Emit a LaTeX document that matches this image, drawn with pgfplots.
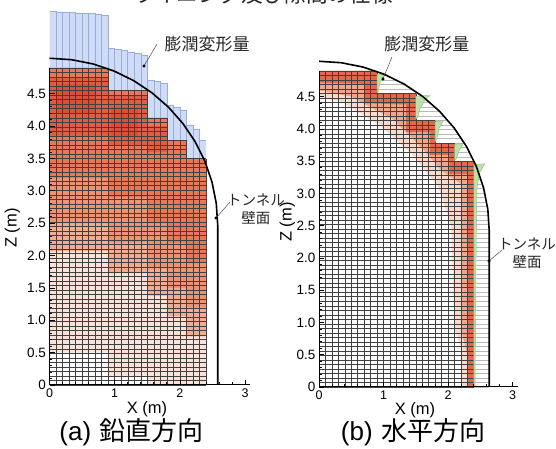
\documentclass[border=0pt]{standalone}
\usepackage{fontspec}
\setmainfont{Liberation Sans}
\newfontfamily\jp{Noto Sans CJK JP}
\usepackage{pgfplots}
\pgfplotsset{compat=1.18}
\usepackage{pgfplotstable}

\definecolor{bluefill}{RGB}{208,220,246}
\definecolor{blueline}{RGB}{150,172,228}
\definecolor{lp}{RGB}{250,226,216}
\definecolor{sal}{RGB}{243,172,148}
\definecolor{sal2}{RGB}{239,146,116}
\definecolor{med}{RGB}{235,118,88}
\definecolor{dk}{RGB}{228,92,64}
\definecolor{dkk}{RGB}{222,78,52}
\definecolor{rp}{RGB}{250,218,205}
\definecolor{rm}{RGB}{243,165,140}
\definecolor{rr}{RGB}{234,100,74}
\definecolor{gfill}{RGB}{190,225,170}
\definecolor{gline}{RGB}{135,190,115}

% mesh rows: z, right end of mesh, tunnel wall x (right panel)
\pgfplotstableread{
z mesh arc
0.00 2.4 2.64
0.07 2.4 2.64
0.14 2.4 2.64
0.21 2.4 2.64
0.28 2.4 2.64
0.35 2.4 2.64
0.42 2.4 2.64
0.49 2.4 2.64
0.56 2.4 2.64
0.63 2.4 2.64
0.70 2.4 2.64
0.77 2.4 2.64
0.84 2.4 2.64
0.91 2.4 2.64
0.98 2.4 2.64
1.05 2.4 2.64
1.12 2.4 2.64
1.19 2.4 2.64
1.26 2.4 2.64
1.33 2.4 2.64
1.40 2.4 2.64
1.47 2.4 2.64
1.54 2.4 2.64
1.61 2.4 2.64
1.68 2.4 2.64
1.75 2.4 2.64
1.82 2.4 2.64
1.89 2.4 2.64
1.96 2.4 2.64
2.03 2.4 2.64
2.10 2.4 2.64
2.17 2.4 2.64
2.24 2.4 2.64
2.31 2.4 2.64
2.38 2.4 2.64
2.45 2.4 2.6397
2.52 2.4 2.6377
2.59 2.4 2.6339
2.66 2.4 2.6282
2.73 2.4 2.6205
2.80 2.4 2.6110
2.87 2.4 2.5996
2.94 2.4 2.5863
3.01 2.4 2.5709
3.08 2.4 2.5536
3.15 2.4 2.5342
3.22 2.4 2.5127
3.29 2.4 2.4890
3.36 2.4 2.4632
3.43 2.4 2.4350
3.50 2.4 2.4045
3.57 2.1 2.3715
3.64 2.1 2.3360
3.71 2.1 2.2978
3.78 2.1 2.2567
3.85 1.8 2.2127
3.92 1.8 2.1655
3.99 1.8 2.1150
4.06 1.8 2.0609
4.13 1.8 2.0028
4.20 1.5 1.9405
4.27 1.5 1.8735
4.34 1.5 1.8013
4.41 1.5 1.7233
4.48 1.5 1.6385
4.55 1.5 1.5460
4.62 0.9 1.4441
4.69 0.9 1.3309
4.76 0.9 1.2030
4.83 0.9 1.0551
4.90 0.9 0.8772
}\rows

% mesh columns: x, top of mesh
\pgfplotstableread{
x top
0.0 4.9
0.1 4.9
0.2 4.9
0.3 4.9
0.4 4.9
0.5 4.9
0.6 4.9
0.7 4.9
0.8 4.9
0.9 4.9
1.0 4.55
1.1 4.55
1.2 4.55
1.3 4.55
1.4 4.55
1.5 4.55
1.6 4.13
1.7 4.13
1.8 4.13
1.9 3.78
2.0 3.78
2.1 3.78
2.2 3.5
2.3 3.5
2.4 3.5
}\cols

% swelling deformation bars (left): column left edge, top
\pgfplotstableread{
x t
0.0 5.77
0.1 5.765
0.2 5.76
0.3 5.755
0.4 5.75
0.5 5.745
0.6 5.74
0.7 5.73
0.8 5.72
0.9 5.21
1.0 5.19
1.1 5.17
1.2 5.15
1.3 5.13
1.4 5.10
1.5 4.71
1.6 4.69
1.7 4.67
1.8 4.33
1.9 4.29
2.0 4.25
2.1 4.02
2.2 3.95
2.3 3.78
2.4 3.78
}\bluetab

\pgfplotstableread{
x t
0.1 5.77
0.2 5.765
0.3 5.76
0.4 5.755
0.5 5.75
0.6 5.745
0.7 5.74
0.8 5.73
0.9 5.72
1.0 5.21
1.1 5.19
1.2 5.17
1.3 5.15
1.4 5.13
1.5 5.10
1.6 4.71
1.7 4.69
1.8 4.67
1.9 4.33
2.0 4.29
2.1 4.25
2.2 4.02
2.3 3.95
}\bluevert

% tunnel walls
\pgfplotstableread{
x z
2.58 0
2.58 2.47
2.5579 2.8068
2.4921 3.1378
2.3836 3.4573
2.2344 3.76
2.0468 4.0406
1.8243 4.2943
1.5706 4.5168
1.29 4.7044
0.9873 4.8536
0.6678 4.9621
0.3368 5.0279
0 5.05
}\arcL

\pgfplotstableread{
x z
2.64 0
2.64 2.41
2.6174 2.7546
2.5501 3.0933
2.4390 3.4203
2.2863 3.73
2.0944 4.0171
1.8668 4.2768
1.6071 4.5044
1.32 4.6963
1.0103 4.849
0.6833 4.9601
0.3446 5.0274
0 5.05
}\arcR

\pgfplotsset{
 common/.style={
  anchor=origin,
  xmin=0, xmax=3.08, ymin=0, ymax=4.9,
  axis lines*=left, clip=false, axis on top,
  xtick={0,1,2,3},
  ytick={0,0.5,...,4.5},
  yticklabels={0,0.5,1.0,1.5,2.0,2.5,3.0,3.5,4.0,4.5},
  minor x tick num=4, minor y tick num=4,
  tick align=inside,
  major tick length=5pt, minor tick length=2.5pt,
  tick style={black, line width=0.8pt},
  axis line style={black, line width=1pt},
  xticklabel style={font=\fontsize{12.5}{14}\selectfont},
  yticklabel style={font=\fontsize{13.5}{15}\selectfont},
  /pgf/number format/assume math mode=true,
 },
}
\tikzset{
 meshl/.style={black!75, line width=0.45pt},
 wallline/.style={black, line width=1.6pt},
 leadline/.style={black!70, line width=0.5pt},
 jpl/.style={font=\jp\fontsize{17}{20}\selectfont, text=black!85},
 jpt/.style={font=\jp\fontsize{14.5}{18}\selectfont, text=black!85, align=center},
 axlab/.style={font=\fontsize{16.5}{18}\selectfont},
 captxt/.style={font=\fontsize{26}{30}\selectfont},
}

\begin{document}
\begin{tikzpicture}
\useasboundingbox (0,0) rectangle (556pt,449pt);
\node[anchor=base, font=\jp\fontsize{21.6}{24}\selectfont, text=black!85] at (263pt,446.5pt) {ライニング及び隙間の仕様};

% ---------------- (a) ----------------
\begin{axis}[common, at={(49.5pt,64pt)}, x=65.2pt, y=64.7pt]
\addplot[const plot, fill=bluefill, draw=none] table[x=x,y=t]{\bluetab} \closedcycle;
\addplot[const plot, draw=blueline, line width=0.5pt] table[x=x,y=t]{\bluetab};
\addplot[ycomb, draw=blueline, line width=0.5pt] table[x=x,y=t]{\bluevert};
% color field
\addplot[fill=lp, draw=none] coordinates {(0,0)(2.4,0)(2.4,3.5)(2.1,3.5)(2.1,3.78)(1.8,3.78)(1.8,4.13)(1.5,4.13)(1.5,4.55)(0.9,4.55)(0.9,4.9)(0,4.9)} -- cycle;
\addplot[fill=white, draw=none] coordinates {(0,0)(1.5,0)(1.5,0.12)(0.9,0.12)(0.9,0.5)(0,0.5)} -- cycle;
\addplot[fill=sal, draw=none] coordinates {(0,2.07)(0,4.9)(0.9,4.9)(0.9,4.55)(1.5,4.55)(1.5,4.13)(1.8,4.13)(1.8,3.78)(2.1,3.78)(2.1,3.5)(2.4,3.5)(2.4,0.75)(2.1,0.75)(2.1,1.06)(1.8,1.06)(1.8,1.38)(1.5,1.38)(1.5,1.73)(0.9,1.73)(0.9,2.07)} -- cycle;
\addplot[fill=sal2, draw=none] coordinates {(0,2.5)(0,4.9)(0.9,4.9)(0.9,4.55)(1.5,4.55)(1.5,4.13)(1.8,4.13)(1.8,3.78)(2.1,3.78)(2.1,3.5)(2.4,3.5)(2.4,1.2)(2.1,1.2)(2.1,1.5)(1.8,1.5)(1.8,1.8)(1.5,1.8)(1.5,2.2)(0.9,2.2)(0.9,2.5)} -- cycle;
\addplot[fill=med, draw=none] coordinates {(0,3.2)(0,4.9)(0.9,4.9)(0.9,4.55)(1.5,4.55)(1.5,4.13)(1.8,4.13)(1.8,3.78)(2.1,3.78)(2.1,3.5)(2.4,3.5)(2.4,1.9)(2.1,1.9)(2.1,2.2)(1.8,2.2)(1.8,2.5)(1.5,2.5)(1.5,2.9)(0.9,2.9)(0.9,3.2)} -- cycle;
\addplot[fill=dk, draw=none] coordinates {(0,3.85)(0,4.76)(0.9,4.76)(0.9,4.48)(1.5,4.48)(1.5,4.0)(1.8,4.0)(1.8,3.6)(1.5,3.6)(1.5,3.7)(0.9,3.7)(0.9,3.85)} -- cycle;
\addplot[fill=dkk, draw=none] coordinates {(0.1,4.2)(0.7,4.2)(0.7,4.65)(0.1,4.65)} -- cycle;
\addplot[fill=dkk, draw=none] coordinates {(0.95,3.85)(1.35,3.85)(1.35,4.3)(0.95,4.3)} -- cycle;
% mesh
\addplot[xcomb, meshl] table[x=mesh,y=z]{\rows};
\addplot[ycomb, meshl] table[x=x,y=top]{\cols};
% wall
\addplot[wallline] table[x=x,y=z]{\arcL};
% annotations
\addplot[leadline] coordinates {(1.649,5.27)(1.449,4.93)};
\addplot[only marks, mark=*, mark size=1.3pt, black] coordinates {(1.449,4.93)};
\node[jpl] at (axis cs:2.416,5.263) {膨潤変形量};
\addplot[leadline] coordinates {(2.768,2.828)(2.554,2.581)};
\addplot[only marks, mark=*, mark size=1.3pt, black] coordinates {(2.554,2.581)};
\node[jpt] at (axis cs:3.167,2.72) {トンネル\\壁面};
\node[axlab] at (axis cs:1.495,-0.37) {X (m)};
\node[axlab, rotate=90] at (axis cs:-0.57,2.427) {Z (m)};
\node[captxt] at (axis cs:1.26,-0.726) {(a)\,\,{\jp 鉛直方向}};
\end{axis}

% ---------------- (b) ----------------
\begin{axis}[common, at={(319pt,62pt)}, x=64.5pt, y=64.5pt]
\addplot[fill=rp, draw=none] coordinates {(0,4.9)(0.9,4.9)(0.9,4.55)(1.5,4.55)(1.5,4.13)(1.8,4.13)(1.8,3.78)(2.1,3.78)(2.1,3.5)(2.4,3.5)(2.4,0)(2.2,0)(2.2,0.6)(2.1,0.9)(2.05,2.5)(1.85,3.1)(1.45,3.6)(0.95,4.05)(0.35,4.42)(0,4.5)} -- cycle;
\addplot[fill=rm, draw=none] coordinates {(0,4.9)(0.9,4.9)(0.9,4.55)(1.5,4.55)(1.5,4.13)(1.8,4.13)(1.8,3.78)(2.1,3.78)(2.1,3.5)(2.4,3.5)(2.4,0)(2.3,0)(2.3,0.5)(2.2,0.9)(2.2,3.15)(1.9,3.35)(1.6,3.7)(1.15,4.15)(0.5,4.5)(0,4.6)} -- cycle;
\addplot[fill=rr, draw=none] coordinates {(0,4.9)(0.9,4.9)(0.9,4.55)(1.5,4.55)(1.5,4.13)(1.8,4.13)(1.8,3.78)(2.1,3.78)(2.1,3.5)(2.4,3.5)(2.4,0)(2.3,0)(2.3,3.3)(2.02,3.3)(2.02,3.6)(1.72,3.6)(1.72,3.95)(1.35,3.95)(1.35,4.38)(0.7,4.4)(0.7,4.7)(0,4.72)} -- cycle;
% gap lines
\addplot[xcomb, black!28, line width=0.45pt] table[x=arc,y=z]{\rows};
% mesh
\addplot[xcomb, meshl] table[x=mesh,y=z]{\rows};
\addplot[ycomb, meshl] table[x=x,y=top]{\cols};
% horizontal swelling deformation
\addplot[fill=gfill, draw=gline, line width=0.4pt] coordinates {(0.9,4.56)(0.9,4.85)(1.01,4.85)(0.94,4.7)(0.92,4.59)} -- cycle;
\addplot[fill=gfill, draw=gline, line width=0.4pt] coordinates {(1.5,4.15)(1.5,4.51)(1.72,4.52)(1.63,4.43)(1.56,4.3)(1.53,4.18)} -- cycle;
\addplot[fill=gfill, draw=gline, line width=0.4pt] coordinates {(1.8,3.8)(1.8,4.11)(1.93,4.13)(1.86,4.01)(1.83,3.86)} -- cycle;
\addplot[fill=gfill, draw=gline, line width=0.4pt] coordinates {(2.1,3.51)(2.1,3.76)(2.24,3.78)(2.17,3.66)(2.13,3.54)} -- cycle;
\addplot[fill=gfill, draw=gline, line width=0.4pt] coordinates {(2.4,0)(2.4,3.45)(2.57,3.46)(2.49,3.32)(2.45,3.1)(2.44,2.6)(2.425,1.0)(2.42,0)} -- cycle;
% wall
\addplot[wallline] table[x=x,y=z]{\arcR};
% annotations
\addplot[leadline] coordinates {(1.132,5.116)(0.992,4.775)};
\addplot[only marks, mark=*, mark size=1.3pt, black] coordinates {(0.992,4.775)};
\node[jpl] at (axis cs:1.674,5.31) {膨潤変形量};
\addplot[leadline] coordinates {(2.837,2.124)(2.636,1.953)};
\addplot[only marks, mark=*, mark size=1.3pt, black] coordinates {(2.636,1.953)};
\node[jpt] at (axis cs:3.225,2.07) {トンネル\\壁面};
\node[axlab] at (axis cs:1.488,-0.355) {X (m)};
\node[axlab, rotate=90] at (axis cs:-0.49,2.558) {Z (m)};
\node[captxt] at (axis cs:1.46,-0.698) {(b)\,\,{\jp 水平方向}};
\end{axis}
\end{tikzpicture}
\end{document}
